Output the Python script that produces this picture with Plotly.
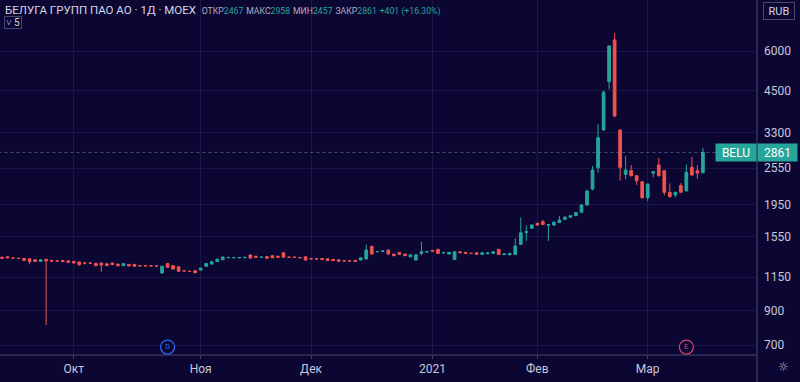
import math
import plotly.graph_objects as go

# ---------------- data ----------------
tick_idx = [13, 36, 56, 78, 97, 117]
tick_text = ["Окт", "Ноя", "Дек", "2021", "Фев", "Мар"]
price_ticks = [700, 900, 1150, 1550, 1950, 2550, 3300, 4500, 6000]

opens = [1330, 1335, 1322, 1320, 1318, 1315, 1305, 1290, 1310, 1300,
         1295, 1300, 1295, 1290, 1285, 1275, 1275, 1272, 1275, 1268,
         1275, 1265, 1250, 1262, 1262, 1250, 1250, 1250, 1248, 1185,
         1270, 1250, 1240, 1205, 1200, 1205, 1211, 1245, 1265, 1288,
         1306, 1326, 1326, 1325, 1326, 1352, 1340, 1330, 1336, 1345,
         1340, 1374, 1331, 1330, 1326, 1334, 1316, 1315, 1318, 1315,
         1310, 1305, 1296, 1296, 1300, 1303, 1313, 1440, 1385, 1390,
         1402, 1361, 1378, 1361, 1334, 1303, 1368, 1382, 1398, 1409,
         1373, 1361, 1309, 1384, 1378, 1368, 1374, 1358, 1364, 1368,
         1409, 1356, 1354, 1358, 1462, 1595, 1643, 1704, 1724, 1680,
         1683, 1713, 1754, 1780, 1802, 1847, 1948, 2190, 2558, 3370,
         4797, 6508, 3370, 2438, 2503, 2413, 2309, 2055, 2460, 2610,
         2503, 2138, 2096, 2243, 2160, 2566, 2503, 2467]
highs = [1335, 1340, 1328, 1325, 1322, 1318, 1310, 1310, 1314, 1304,
         1298, 1303, 1298, 1294, 1288, 1282, 1278, 1276, 1278, 1272,
         1278, 1268, 1272, 1265, 1265, 1253, 1253, 1252, 1251, 1250,
         1275, 1254, 1244, 1208, 1204, 1208, 1232, 1272, 1290, 1314,
         1334, 1336, 1330, 1328, 1336, 1356, 1343, 1333, 1339, 1348,
         1343, 1378, 1334, 1333, 1329, 1337, 1319, 1318, 1321, 1318,
         1313, 1308, 1299, 1299, 1303, 1327, 1460, 1445, 1390, 1400,
         1405, 1364, 1381, 1364, 1358, 1358, 1489, 1386, 1400, 1412,
         1378, 1380, 1386, 1387, 1380, 1371, 1377, 1376, 1376, 1386,
         1412, 1365, 1370, 1527, 1780, 1680, 1690, 1712, 1750, 1695,
         1730, 1798, 1800, 1812, 1850, 1960, 2180, 2591, 3513, 4495,
         6260, 6833, 3380, 2787, 2610, 2420, 2315, 2275, 2490, 2752,
         2510, 2280, 2145, 2286, 2620, 2772, 2610, 2958]
lows = [1318, 1322, 1316, 1314, 1298, 1262, 1286, 1286, 810, 1288,
        1290, 1285, 1278, 1272, 1250, 1262, 1270, 1248, 1197, 1246,
        1256, 1246, 1248, 1244, 1242, 1246, 1246, 1246, 1244, 1180,
        1232, 1216, 1196, 1200, 1194, 1178, 1205, 1242, 1262, 1285,
        1303, 1322, 1324, 1322, 1322, 1320, 1328, 1327, 1318, 1322,
        1326, 1328, 1327, 1326, 1322, 1301, 1312, 1311, 1306, 1295,
        1295, 1290, 1292, 1292, 1288, 1300, 1310, 1358, 1380, 1380,
        1358, 1340, 1355, 1342, 1330, 1300, 1350, 1378, 1388, 1365,
        1370, 1358, 1305, 1372, 1366, 1365, 1356, 1355, 1361, 1365,
        1355, 1352, 1350, 1355, 1455, 1500, 1638, 1678, 1685, 1498,
        1675, 1708, 1750, 1776, 1798, 1840, 1940, 2170, 2467, 3350,
        4537, 3700, 2326, 2350, 2400, 2254, 2040, 2006, 2380, 2400,
        2092, 2060, 2060, 2130, 2150, 2420, 2360, 2457]
closes = [1320, 1325, 1321, 1318, 1300, 1290, 1290, 1305, 1295, 1292,
          1294, 1288, 1282, 1275, 1260, 1274, 1274, 1250, 1256, 1252,
          1260, 1250, 1270, 1248, 1245, 1249, 1249, 1248, 1247, 1245,
          1235, 1220, 1200, 1204, 1199, 1190, 1229, 1270, 1288, 1312,
          1332, 1328, 1327, 1326, 1328, 1322, 1330, 1331, 1321, 1325,
          1330, 1330, 1330, 1329, 1325, 1303, 1315, 1314, 1308, 1298,
          1298, 1292, 1295, 1294, 1290, 1325, 1402, 1361, 1386, 1391,
          1361, 1345, 1358, 1345, 1354, 1354, 1384, 1384, 1390, 1368,
          1375, 1378, 1384, 1375, 1368, 1368, 1358, 1374, 1372, 1384,
          1358, 1362, 1368, 1444, 1591, 1602, 1683, 1683, 1690, 1688,
          1717, 1746, 1780, 1802, 1843, 1948, 2158, 2516, 3186, 4439,
          6228, 3733, 2566, 2516, 2413, 2326, 2055, 2270, 2485, 2413,
          2138, 2070, 2138, 2138, 2474, 2426, 2460, 2861]

event_idx = [30, 124]
event_text = ["D", "E"]
event_colors = ["#2f6bff", "#e2406c"]
event_level = 690

ticker = "BELU"
title = "БЕЛУГА ГРУПП ПАО АО · 1Д · MOEX"

# ---------------- style ----------------
BG = "#0c0633"
GRID = "#1c1749"
AXLINE = "#4a4672"
TXT = "#c9c8d9"
UP = "#26a69a"
DOWN = "#ef5350"
FONT = "Roboto"

W, H = 800, 382
ML, MR, MT, MB = 0, 43, 0, 27
PW, PH = W - ML - MR, H - MT - MB

idx = list(range(len(closes)))

fig = go.Figure()

fig.add_trace(go.Candlestick(
    x=idx, open=opens, high=highs, low=lows, close=closes,
    increasing=dict(line=dict(color=UP, width=1), fillcolor=UP),
    decreasing=dict(line=dict(color=DOWN, width=1), fillcolor=DOWN),
    whiskerwidth=0, showlegend=False, hoverinfo="skip",
))

# last price dotted line
fig.add_trace(go.Scatter(
    x=[-5, len(closes) + 20], y=[closes[-1], closes[-1]],
    mode="lines", line=dict(color="rgba(120,170,180,0.5)", width=1, dash="dot"),
    showlegend=False, hoverinfo="skip",
))

# event markers
fig.add_trace(go.Scatter(
    x=event_idx, y=[event_level] * len(event_idx), mode="markers+text",
    text=event_text, textposition="middle center",
    textfont=dict(color=event_colors, size=7, family=FONT),
    marker=dict(size=14, color=BG, line=dict(color=event_colors, width=1.2)),
    showlegend=False, hoverinfo="skip",
))

xmin = -0.36
xmax = 136.8
ymin = math.log10(651)
ymax = math.log10(8716)

fig.update_layout(
    width=W, height=H,
    margin=dict(l=ML, r=MR, t=MT, b=MB, pad=0),
    paper_bgcolor=BG, plot_bgcolor=BG,
    font=dict(family=FONT, color=TXT, size=12),
    showlegend=False,
    xaxis=dict(
        range=[xmin, xmax], tickmode="array", tickvals=tick_idx, ticktext=tick_text,
        showgrid=True, gridcolor=GRID, gridwidth=1, zeroline=False, showline=False,
        ticks="outside", ticklen=3, tickcolor=AXLINE,
        tickfont=dict(size=12, color=TXT, family=FONT),
        rangeslider=dict(visible=False), fixedrange=True,
    ),
    yaxis=dict(
        type="log", side="right", range=[ymin, ymax],
        tickmode="array", tickvals=price_ticks, ticktext=[str(v) for v in price_ticks],
        showgrid=True, gridcolor=GRID, gridwidth=1, zeroline=False, showline=False,
        ticks="", ticklabelstandoff=6,
        tickfont=dict(size=12, color=TXT, family=FONT), fixedrange=True,
    ),
)

# axis separators
fig.add_shape(type="line", xref="paper", yref="paper", x0=1, x1=1, y0=-MB / PH, y1=1,
              line=dict(color=AXLINE, width=1), layer="above")
fig.add_shape(type="line", xref="paper", yref="paper", x0=0, x1=1, y0=0, y1=0,
              line=dict(color=AXLINE, width=1), layer="above")

def px(xp):
    return (xp - ML) / PW

def py(yp):
    return 1 - (yp - MT) / PH

# header
chg = closes[-1] - closes[-2]
pct = chg / closes[-2] * 100
lab = "color:#aeb0c4;font-size:8.7px"
val = "color:#26a69a;font-size:8.7px"
header = (f'<span style="font-size:11.5px;color:#d6d6e4">{title}</span>  '
          f'<span style="{lab}">ОТКР</span><span style="{val}">{opens[-1]}</span> '
          f'<span style="{lab}">МАКС</span><span style="{val}">{highs[-1]}</span> '
          f'<span style="{lab}">МИН</span><span style="{val}">{lows[-1]}</span> '
          f'<span style="{lab}">ЗАКР</span><span style="{val}">{closes[-1]}</span> '
          f'<span style="{val}">{chg:+d} ({pct:+.2f}%)</span>')
fig.add_annotation(xref="paper", yref="paper", x=px(3), y=py(10), xanchor="left",
                   yanchor="middle", text=header, showarrow=False,
                   font=dict(family=FONT, size=11.5, color=TXT))

# collapse box
fig.add_annotation(xref="paper", yref="paper", x=px(13), y=py(22), xanchor="center",
                   yanchor="middle", text="˅ 5", showarrow=False, width=16, height=11,
                   bordercolor="#4a4672", borderwidth=1, borderpad=0,
                   font=dict(family=FONT, size=10, color="#d6d6e4"))

# RUB box
fig.add_annotation(xref="paper", yref="paper", x=px(779), y=py(11), xanchor="center",
                   yanchor="middle", text="RUB", showarrow=False, width=28, height=14,
                   bordercolor="#4a4672", borderwidth=1, borderpad=1,
                   font=dict(family=FONT, size=11, color="#d6d6e4"))

# last price labels
fig.add_annotation(xref="paper", yref="y", x=1, y=math.log10(closes[-1]), xanchor="right",
                   yanchor="middle", text=ticker, showarrow=False, width=38, height=15,
                   bgcolor=UP, borderpad=1,
                   font=dict(family=FONT, size=12, color="white"))
fig.add_annotation(xref="paper", yref="y", x=1, y=math.log10(closes[-1]), xanchor="left",
                   yanchor="middle", text=str(closes[-1]), showarrow=False, width=37, height=15,
                   bgcolor=UP, borderpad=1,
                   font=dict(family=FONT, size=12, color="white"))

# settings icon
fig.add_annotation(xref="paper", yref="paper", x=px(783), y=py(367), xanchor="center",
                   yanchor="middle", text="☼", showarrow=False,
                   font=dict(family="DejaVu Sans", size=12, color="#aeb0c4"))

fig.write_html("out.html",
               config={"displayModeBar": False},
               post_script="document.body.style.margin='0';document.body.style.padding='0';"
                           "document.body.style.background='" + BG + "';")
